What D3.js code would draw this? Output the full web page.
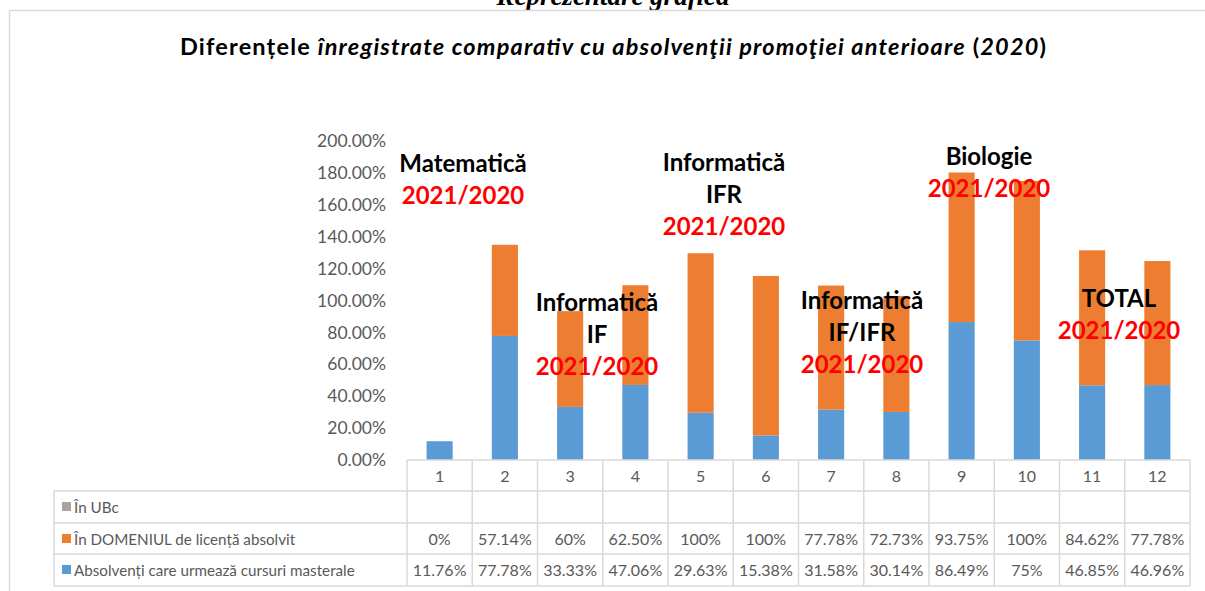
<!DOCTYPE html>
<html lang="ro">
<head>
  <meta charset="UTF-8">
  <title>Reprezentare grafica</title>
  <style>
    html, body {
      background: #ffffff;
      margin: 0px;
      width: 100%;
      height: 100%;
      overflow: hidden;
    }
    #container {
      position: absolute;
      left: 0px; top: 0px;
      width: 1205px; height: 591px;
    }
    text { font-family: Lato, "Open Sans", sans-serif; }
  </style>
</head>
<body>
<div id="container"></div>

<script src="https://cdnjs.cloudflare.com/ajax/libs/d3/7.8.5/d3.min.js"></script>
<script>

  // --- data ---
  var categories = ['1','2','3','4','5','6','7','8','9','10','11','12'];
  var masterale = [11.76, 77.78, 33.33, 47.06, 29.63, 15.38, 31.58, 30.14, 86.49, 75, 46.85, 46.96];
  var domeniu   = [0, 57.14, 60, 62.5, 100, 100, 77.78, 72.73, 93.75, 100, 84.62, 77.78];
  var ubc       = [null, null, null, null, null, null, null, null, null, null, null, null];
  var seriesNames = ['În UBc', 'În DOMENIUL de licență absolvit', 'Absolvenți care urmează cursuri masterale'];
  var yTicks = [0, 20, 40, 60, 80, 100, 120, 140, 160, 180, 200];

  var noteLines = [
    ['Matematică', '2021/2020'],
    ['Informatică', 'IF', '2021/2020'],
    ['Informatică', 'IFR', '2021/2020'],
    ['Informatică', 'IF/IFR', '2021/2020'],
    ['Biologie', '2021/2020'],
    ['TOTAL', '2021/2020']
  ];

  // --- layout ---
  var width = 1205, height = 591;
  var notePos = [[463, 172], [597, 311], [724, 171], [862, 309], [989, 165], [1119, 307]];
  var colors = { ubc: '#a5a5a5', domeniu: '#ed7d31', masterale: '#5b9bd5' };
  var gridColor = '#d9d9d9';
  var textColor = '#595959';

  var svg = d3.select('#container').append('svg')
    .attr('width', width)
    .attr('height', height);

  // heading above the chart box, cut by the top edge as in the source page
  svg.append('text')
    .attr('x', 613).attr('y', 5)
    .attr('text-anchor', 'middle')
    .style('font-family', '"Liberation Serif", serif')
    .style('font-weight', 'bold').style('font-style', 'italic')
    .style('font-size', '27px')
    .text('Reprezentare grafică');

  // chart area border (left + top visible)
  svg.append('path')
    .attr('d', 'M9.5,' + height + ' V10.5 H' + width)
    .attr('fill', 'none')
    .attr('stroke', gridColor)
    .attr('stroke-width', 1.5);

  // title
  var title = svg.append('text')
    .attr('x', 613).attr('y', 55)
    .attr('text-anchor', 'middle')
    .attr('textLength', 866)
    .attr('lengthAdjust', 'spacing')
    .style('font-size', '23.5px')
    .style('font-weight', 'bold')
    .attr('fill', '#000');
  title.append('tspan').text('Diferențele ');
  title.append('tspan').style('font-style', 'italic').text('înregistrate comparativ cu absolvenţii promoţiei anterioare');
  title.append('tspan').text(' (');
  title.append('tspan').style('font-style', 'italic').text('2020');
  title.append('tspan').text(')');

  // scales
  var x = d3.scaleBand()
    .domain(categories)
    .range([407, 1190])
    .paddingInner(0.6)
    .paddingOuter(0.3);

  var y = d3.scaleLinear()
    .domain([0, 200])
    .range([460, 141]);

  // y axis
  var yAxis = svg.append('g')
    .attr('transform', 'translate(392,0)')
    .call(d3.axisLeft(y).tickValues(yTicks).tickSize(0).tickPadding(6)
      .tickFormat(d => d.toFixed(2) + '%'));
  yAxis.select('.domain').remove();
  yAxis.selectAll('text')
    .style('font-family', 'Lato, sans-serif')
    .style('font-size', '17.5px')
    .attr('fill', textColor);

  // stacked bars
  var rows = categories.map((c, i) => ({
    cat: c, masterale: masterale[i], domeniu: domeniu[i], ubc: ubc[i] || 0
  }));
  var stacked = d3.stack().keys(['masterale', 'domeniu', 'ubc'])(rows);

  svg.append('g').selectAll('g')
    .data(stacked)
    .enter().append('g')
    .attr('fill', d => colors[d.key])
    .selectAll('rect')
    .data(d => d)
    .enter().append('rect')
    .attr('x', d => x(d.data.cat))
    .attr('width', x.bandwidth())
    .attr('y', d => y(d[1]))
    .attr('height', d => y(d[0]) - y(d[1]));

  // data table
  var step = x.step();
  var left = x.range()[0], right = x.range()[1];
  var rowY = [460, 491, 523, 554, 586];
  var labelLeft = 54;
  var grid = svg.append('g').attr('stroke', gridColor).attr('stroke-width', 1.5);

  grid.append('line').attr('x1', left).attr('x2', right).attr('y1', rowY[0]).attr('y2', rowY[0]);
  rowY.slice(1).forEach(yy => {
    grid.append('line').attr('x1', labelLeft).attr('x2', right).attr('y1', yy).attr('y2', yy);
  });
  grid.append('line').attr('x1', labelLeft).attr('x2', labelLeft).attr('y1', rowY[1]).attr('y2', rowY[4]);
  d3.range(categories.length + 1).forEach(i => {
    grid.append('line')
      .attr('x1', left + i * step).attr('x2', left + i * step)
      .attr('y1', rowY[0]).attr('y2', rowY[4]);
  });

  var fmt = v => v == null ? '' : (Number.isInteger(v) ? v + '%' : v.toFixed(2) + '%');
  var cellX = c => x(c) + x.bandwidth() / 2;

  var tableText = svg.append('g')
    .attr('text-anchor', 'middle')
    .attr('fill', textColor)
    .style('font-size', '16px');

  tableText.selectAll('.hdr').data(categories).enter().append('text')
    .attr('class', 'hdr')
    .attr('x', cellX).attr('y', 482)
    .text(d => d);

  var tableRows = [ubc, domeniu, masterale];
  tableRows.forEach((vals, r) => {
    tableText.selectAll('.r' + r).data(vals).enter().append('text')
      .attr('class', 'r' + r)
      .attr('x', (d, i) => cellX(categories[i]))
      .attr('y', rowY[r + 1] + 22)
      .text(d => fmt(d));
  });

  // row legend labels
  var legendKeys = ['ubc', 'domeniu', 'masterale'];
  var legend = svg.append('g');
  seriesNames.forEach((name, r) => {
    legend.append('rect')
      .attr('x', 62).attr('y', rowY[r + 1] + 11)
      .attr('width', 9).attr('height', 9)
      .attr('fill', colors[legendKeys[r]]);
    legend.append('text')
      .attr('x', 74).attr('y', rowY[r + 1] + 22)
      .attr('fill', textColor)
      .style('font-size', '15.2px')
      .text(name);
  });

  // annotation text boxes
  var notes = svg.append('g')
    .attr('text-anchor', 'middle')
    .style('font-size', '24px')
    .style('font-weight', 'bold');
  noteLines.forEach((lines, k) => {
    lines.forEach((ln, j) => {
      notes.append('text')
        .attr('x', notePos[k][0])
        .attr('y', notePos[k][1] + j * 32)
        .attr('fill', ln === '2021/2020' ? '#ff0000' : '#000000')
        .text(ln);
    });
  });

</script>
</body>
</html>
